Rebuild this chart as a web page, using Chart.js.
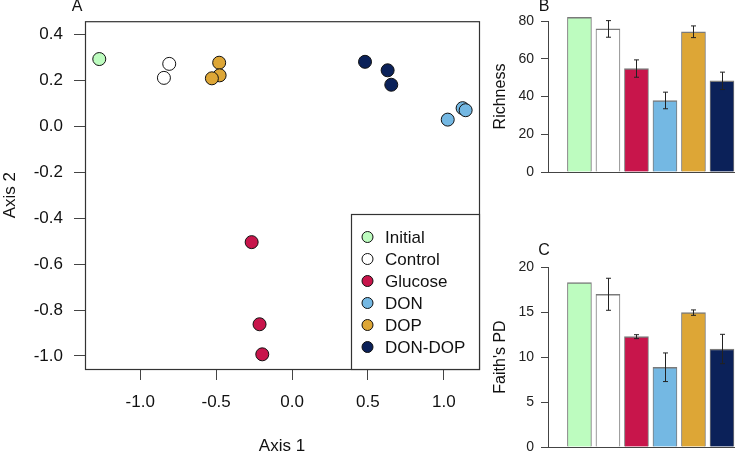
<!DOCTYPE html>
<html>
<head>
<meta charset="utf-8">
<script src="https://cdn.jsdelivr.net/npm/chart.js@4.4.1/dist/chart.umd.min.js"></script>
<style>
  body { margin: 0; width: 735px; height: 454px; overflow: hidden; background: #fff; position: relative; }
  canvas { position: absolute; }
  #pcoa { left: 0; top: 0; }
  #rich { left: 490px; top: 0; }
  #faith { left: 490px; top: 227px; }
</style>
</head>
<body>
<canvas id="pcoa" width="490" height="460"></canvas>
<canvas id="rich" width="245" height="227"></canvas>
<canvas id="faith" width="245" height="240"></canvas>
<script>
// treatment groups and their colours
const groups = ['Initial', 'Control', 'Glucose', 'DON', 'DOP', 'DON-DOP'];
const colors = ['#bdfcbf', '#ffffff', '#c8154b', '#74b8e3', '#dda636', '#0b2159'];

// PCoA scores [axis 1, axis 2]
const initialPts = [[-1.27, 0.294]];
const controlPts = [[-0.809, 0.273], [-0.844, 0.212]];
const glucosePts = [[-0.266, -0.504], [-0.214, -0.862], [-0.196, -0.993]];
const donPts = [[1.026, 0.030], [1.124, 0.080], [1.144, 0.071]];
const dopPts = [[-0.480, 0.278], [-0.477, 0.223], [-0.528, 0.210]];
const dondopPts = [[0.481, 0.282], [0.630, 0.245], [0.654, 0.182]];
const axis1Ticks = [-1.0, -0.5, 0.0, 0.5, 1.0];
const axis2Ticks = [0.4, 0.2, 0.0, -0.2, -0.4, -0.6, -0.8, -1.0];

// alpha diversity (mean and error)
const richness = [82.0, 75.8, 54.8, 37.9, 74.3, 48.3];
const richnessErr = [0, 4.4, 4.6, 4.4, 3.1, 4.6];
const faithPD = [18.27, 16.97, 12.26, 8.86, 14.93, 10.89];
const faithErr = [0, 1.78, 0.22, 1.59, 0.30, 1.63];
const richnessTicks = [0, 20, 40, 60, 80];
const faithTicks = [0, 5, 10, 15, 20];

Chart.defaults.font.family = '"Liberation Sans", Arial, sans-serif';
Chart.defaults.color = '#111';

const FONT_A = { size: 17 };

function panelLetter(text, x, y) {
  return {
    id: 'letter' + text,
    afterDraw(chart) {
      const ctx = chart.ctx;
      ctx.save();
      ctx.font = '16px "Liberation Sans", Arial, sans-serif';
      ctx.fillStyle = '#111';
      ctx.textAlign = 'center';
      ctx.textBaseline = 'middle';
      ctx.fillText(text, x, y);
      ctx.restore();
    }
  };
}

const boxPlugin = {
  id: 'box',
  beforeDatasetsDraw(chart) {
    const { ctx, chartArea: a } = chart;
    ctx.save();
    ctx.strokeStyle = '#333';
    ctx.lineWidth = 1.2;
    ctx.strokeRect(a.left + 0.5, a.top + 0.5, a.right - a.left, a.bottom - a.top);
    ctx.restore();
  }
};

const legendPlugin = {
  id: 'boxLegend',
  afterDatasetsDraw(chart) {
    const { ctx, chartArea: a } = chart;
    const lx = 351, ly = 214;
    ctx.save();
    ctx.fillStyle = '#fff';
    ctx.fillRect(lx, ly, a.right - lx, a.bottom - ly);
    ctx.strokeStyle = '#333';
    ctx.lineWidth = 1.2;
    ctx.strokeRect(lx + 0.5, ly + 0.5, a.right - lx, a.bottom - ly);
    ctx.font = '17px "Liberation Sans", Arial, sans-serif';
    ctx.textBaseline = 'middle';
    chart.data.datasets.forEach((ds, i) => {
      const y = 237 + i * 22;
      ctx.beginPath();
      ctx.arc(367.5, y, 5.5, 0, Math.PI * 2);
      ctx.fillStyle = ds.backgroundColor;
      ctx.fill();
      ctx.strokeStyle = '#111';
      ctx.lineWidth = 1;
      ctx.stroke();
      ctx.fillStyle = '#111';
      ctx.fillText(ds.label, 385, y + 1);
    });
    ctx.restore();
  }
};

const allPts = [initialPts, controlPts, glucosePts, donPts, dopPts, dondopPts];

new Chart(document.getElementById('pcoa'), {
  type: 'scatter',
  data: {
    datasets: allPts.map((pts, i) => ({
      label: groups[i],
      data: pts.map(([x, y]) => ({ x, y })),
      backgroundColor: colors[i],
      borderColor: '#111',
      borderWidth: 1,
      pointRadius: 6.5,
      pointHoverRadius: 6.5
    }))
  },
  options: {
    responsive: false,
    animation: false,
    events: [],
    layout: { padding: { top: 18, right: 11, left: 0, bottom: 0 } },
    plugins: { legend: { display: false }, tooltip: { enabled: false } },
    scales: {
      x: {
        type: 'linear',
        min: -1.364, max: 1.232,
        afterBuildTicks: s => { s.ticks = axis1Ticks.map(v => ({ value: v })); },
        afterFit: s => { s.height = 91; },
        grid: { drawOnChartArea: false, tickLength: 11, color: '#444' },
        border: { display: false },
        ticks: { font: FONT_A, padding: 12, maxRotation: 0, autoSkip: false, callback: v => v.toFixed(1) },
        title: { display: true, text: 'Axis 1', font: FONT_A, padding: { top: 0, bottom: 3 } }
      },
      y: {
        type: 'linear',
        min: -1.057, max: 0.459,
        afterBuildTicks: s => { s.ticks = axis2Ticks.map(v => ({ value: v })); },
        afterFit: s => { s.width = 85; },
        grid: { drawOnChartArea: false, tickLength: 11, color: '#444' },
        border: { display: false },
        ticks: { font: FONT_A, padding: 11, autoSkip: false, callback: v => v.toFixed(1) },
        title: { display: true, text: 'Axis 2', font: FONT_A, padding: { top: 0, bottom: 0 } }
      }
    }
  },
  plugins: [boxPlugin, legendPlugin, panelLetter('A', 77, 7)]
});

const errorBars = {
  id: 'errorBars',
  afterDatasetsDraw(chart) {
    const { ctx } = chart;
    const errs = chart.options.plugins.errorBars.errors;
    const vals = chart.data.datasets[0].data;
    const meta = chart.getDatasetMeta(0);
    const ys = chart.scales.y;
    ctx.save();
    ctx.strokeStyle = '#222';
    ctx.lineWidth = 1;
    meta.data.forEach((bar, i) => {
      if (!errs[i]) return;
      const x = Math.round(bar.x) + 0.5;
      const hi = ys.getPixelForValue(vals[i].y + errs[i]);
      const lo = ys.getPixelForValue(vals[i].y - errs[i]);
      ctx.beginPath();
      ctx.moveTo(x, hi); ctx.lineTo(x, lo);
      ctx.moveTo(x - 2.5, hi); ctx.lineTo(x + 2.5, hi);
      ctx.moveTo(x - 2.5, lo); ctx.lineTo(x + 2.5, lo);
      ctx.stroke();
    });
    ctx.restore();
  }
};

function barChart(id, values, errs, yTicks, yTitle, padTop, xHeight, letter, letterY) {
  return new Chart(document.getElementById(id), {
    type: 'bar',
    data: {
      labels: groups,
      datasets: [{
        data: values.map((v, i) => ({ x: i + 1, y: v })),
        backgroundColor: colors,
        borderColor: '#7a7a7a',
        borderWidth: { top: 1.5, left: 1, right: 1, bottom: 0 },
        barThickness: 24,
        clip: false
      }]
    },
    options: {
      responsive: false,
      animation: false,
      events: [],
      layout: { padding: { top: padTop, right: 0, left: 0, bottom: 0 } },
      plugins: { legend: { display: false }, tooltip: { enabled: false }, errorBars: { errors: errs } },
      scales: {
        x: {
          type: 'linear',
          offset: false,
          bounds: 'data',
          min: -0.103, max: 6.457,
          afterFit: s => { s.height = xHeight; },
          ticks: { display: false },
          grid: { display: false, offset: false },
          border: { display: true, color: '#444', width: 1 }
        },
        y: {
          min: yTicks[0], max: yTicks[yTicks.length - 1],
          afterBuildTicks: s => { s.ticks = yTicks.map(v => ({ value: v })); },
          afterFit: s => { s.width = 58; },
          grid: { drawOnChartArea: false, tickLength: 7, color: '#444' },
          border: { display: true, color: '#444', width: 1 },
          ticks: { font: { size: 14 }, padding: 7, color: '#222' },
          title: { display: true, text: yTitle, font: { size: 16 }, padding: { top: 1, bottom: 0 } }
        }
      }
    },
    plugins: [errorBars, panelLetter(letter, 54, letterY)]
  });
}

barChart('rich', richness, richnessErr, richnessTicks, 'Richness', 21, 55, 'B', 7);
barChart('faith', faithPD, faithErr, faithTicks, "Faith's PD", 40, 20, 'C', 24);
</script>
</body>
</html>
